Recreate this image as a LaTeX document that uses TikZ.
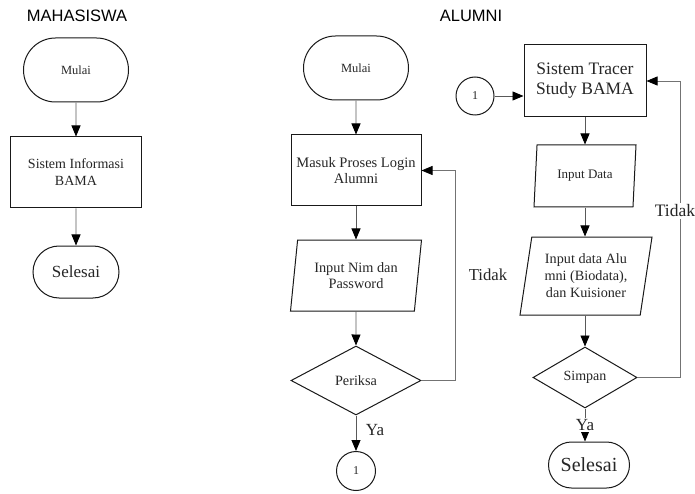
\documentclass[tikz,border=0pt]{standalone}
\usepackage{fontspec}
\setmainfont{Liberation Serif}
\newfontfamily\hdrfont{Liberation Sans}
\usetikzlibrary{shapes.geometric,shapes.misc,arrows.meta,calc}
\begin{document}
\begin{tikzpicture}[x=1pt,y=-1pt,
  every node/.style={text=black!85, align=center, inner sep=0pt},
  fs/.style 2 args={font=\fontsize{#1}{#2}\selectfont},
  term/.style={draw=black!90, line width=1pt, rounded rectangle},
  procbox/.style={draw=black!90, line width=1pt, rectangle},
  iobox/.style={draw=black!90, line width=1pt, trapezium, trapezium left angle=75, trapezium right angle=105, trapezium stretches body},
  decbox/.style={draw=black!90, line width=1pt, diamond},
  conn/.style={draw=black!90, line width=1pt, circle},
  flow/.style={draw=black!65, line width=0.9pt, -{Triangle[length=11pt,width=9pt,color=black]}},
  fback/.style={draw=black!55, line width=0.8pt, -{Triangle[length=11pt,width=9pt,color=black]}},
  hdr/.style={font=\hdrfont\fontsize{16.5}{18}\selectfont, text=black}
]
\useasboundingbox (0,0) rectangle (695,494);
\fill[white] (0,0) rectangle (695,494);

% headers
\node[hdr] (hm) at (77,16) {MAHASISWA};
\node[hdr] (ha) at (471,16) {ALUMNI};

% MAHASISWA column
\node[term, minimum width=105pt, minimum height=64pt, fs={12.5}{15}] (m1) at (76,70) {Mulai};
\node[procbox, minimum width=131pt, minimum height=71pt, fs={14}{17}] (m2) at (76,172.5) {Sistem Informasi\\BAMA};
\node[term, minimum width=86pt, minimum height=52pt, fs={17}{20}] (m3) at (76,272) {Selesai};
\draw[flow] (m1) -- (m2);
\draw[flow] (m2) -- (m3);

% ALUMNI column 1
\node[term, minimum width=105pt, minimum height=64pt, fs={12.5}{15}] (a1) at (356,68) {Mulai};
\node[procbox, minimum width=130pt, minimum height=71pt, fs={14.5}{16.5}] (a2) at (356,170.5) {Masuk Proses Login\\Alumni};
\node[iobox, minimum width=131pt, minimum height=71pt, fs={14.3}{16.5}] (a3) at (356,275.5) {Input Nim dan\\Password};
\node[decbox, minimum width=130pt, minimum height=69pt, fs={14.2}{17}] (a4) at (356,380.5) {Periksa};
\node[conn, minimum size=39pt, fs={12}{14}] (a5) at (356,471) {1};
\draw[flow] (a1) -- (a2);
\draw[flow] (a2) -- (a3);
\draw[flow] (a3) -- (a4);
\draw[flow] (a4) -- (a5);
\node[fs={17}{20}] (yal) at (375,430) {Ya};
\coordinate (fa) at (455,380.5);
\draw[fback] (a4.east) -- (fa) |- (a2.east);
\node[fs={16.7}{20}] (tl) at (488,275) {Tidak};

% ALUMNI column 2
\node[conn, minimum size=38pt, fs={12}{14}] (b0) at (475,96) {1};
\node[procbox, minimum width=122pt, minimum height=72pt, fs={17.5}{20}] (b1) at (585,81) {Sistem Tracer\\Study BAMA};
\node[iobox, minimum width=102pt, minimum height=62pt, fs={13}{15}] (b2) at (585,176) {Input Data};
\node[iobox, minimum width=132pt, minimum height=78pt, fs={14.2}{17}] (b3) at (586,276) {Input data Alu\\mni (Biodata),\\dan Kuisioner};
\node[decbox, minimum width=104pt, minimum height=61pt, fs={14}{17}] (b4) at (585,377.5) {Simpan};
\node[term, minimum width=81pt, minimum height=46pt, fs={20}{24}] (b5) at (589,465) {Selesai};
\draw[flow] (b0.east) -- (b0.east -| b1.west);
\draw[flow] (b1) -- (b1.south |- b2.north);
\draw[flow] (b2.south -| b1.south) -- (b1.south |- b3.north);
\draw[flow] (b3.south -| b1.south) -- (b1.south |- b4.north);
\draw[flow] (b4.south) -- (b4.south |- b5.north);
\node[fs={17}{20}, fill=white, inner sep=1pt] (yar) at (585,425) {Ya};
\coordinate (fb) at (680,377.5);
\draw[fback] (b4.east) -- (fb) |- (b1.east);
\node[fs={17.5}{20}, fill=white, inner sep=1.5pt] (tr) at (675,211) {Tidak};
\end{tikzpicture}
\end{document}
